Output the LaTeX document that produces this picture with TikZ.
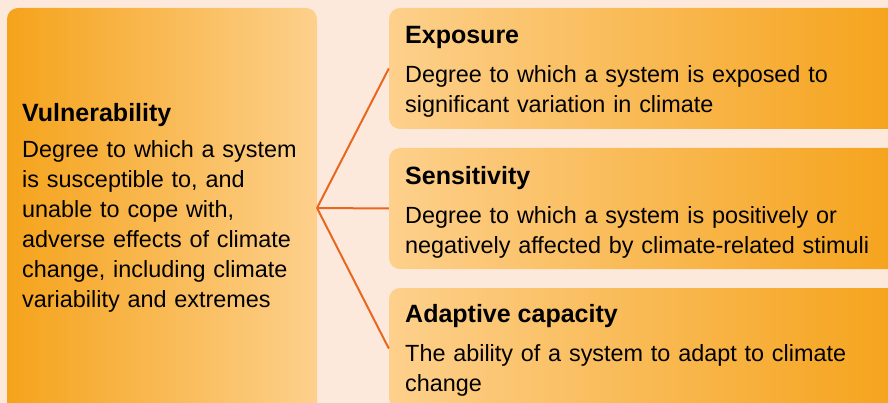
\documentclass[tikz,border=0pt]{standalone}
\usepackage{fontspec}
\setmainfont{Liberation Sans}
\usetikzlibrary{positioning}

\definecolor{bgPeach}{HTML}{FDE9DB}
\definecolor{deepOrange}{HTML}{F5A31B}
\definecolor{paleOrange}{HTML}{FDD08C}
\definecolor{linkOrange}{HTML}{E8671E}

\begin{document}
\begin{tikzpicture}[
        x=1pt, y=-1pt,
        mainBox/.style={rectangle, rounded corners=11pt, inner sep=0pt, minimum width=310pt, minimum height=412pt, left color=deepOrange, right color=paleOrange},
        factorBox/.style={rectangle, rounded corners=11pt, inner sep=0pt, minimum width=511pt, minimum height=121pt, left color=paleOrange, right color=deepOrange},
        headText/.style={anchor=base west, inner sep=0pt, font=\fontsize{25}{30}\selectfont\bfseries},
        bodyText/.style={anchor=base west, inner sep=0pt, text width=480pt, align=left, font=\fontsize{23.4}{30}\selectfont},
        link/.style={draw=linkOrange, line width=2pt}
    ]
        % Background
        \clip (0,0) rectangle (888,403);
        \fill[bgPeach] (0,0) rectangle (888,403);

        % Boxes
        \node[mainBox] (vul) at (162,214) {};
        \node[factorBox] (expo) at (644.5,68.5) {};
        \node[factorBox] (sens) at (644.5,208.5) {};
        \node[factorBox] (adapt) at (644.5,348.5) {};

        % Vulnerability text
        \node[headText] (vulHead) at (22,122) {Vulnerability};
        \node[bodyText, text width=290pt] (vulBody) at (22,158) {Degree to which a system\\is susceptible to, and\\unable to cope with,\\adverse effects of climate\\change, including climate\\variability and extremes};

        % Factor texts
        \node[headText] (expoHead) at (405,44) {Exposure};
        \node[bodyText] (expoBody) at (405,83) {Degree to which a system is exposed to\\significant variation in climate};
        \node[headText] (sensHead) at (405,185) {Sensitivity};
        \node[bodyText] (sensBody) at (405,224) {Degree to which a system is positively or\\negatively affected by climate-related stimuli};
        \node[headText] (adaptHead) at (405,322) {Adaptive capacity};
        \node[bodyText] (adaptBody) at (405,361) {The ability of a system to adapt to climate\\change};

        % Edges
        \coordinate (hub) at (317,208);
        \draw[link] (hub) -- (expo.west);
        \draw[link] (hub) -- (sens.west);
        \draw[link] (hub) -- (adapt.west);
    \end{tikzpicture}
\end{document}
